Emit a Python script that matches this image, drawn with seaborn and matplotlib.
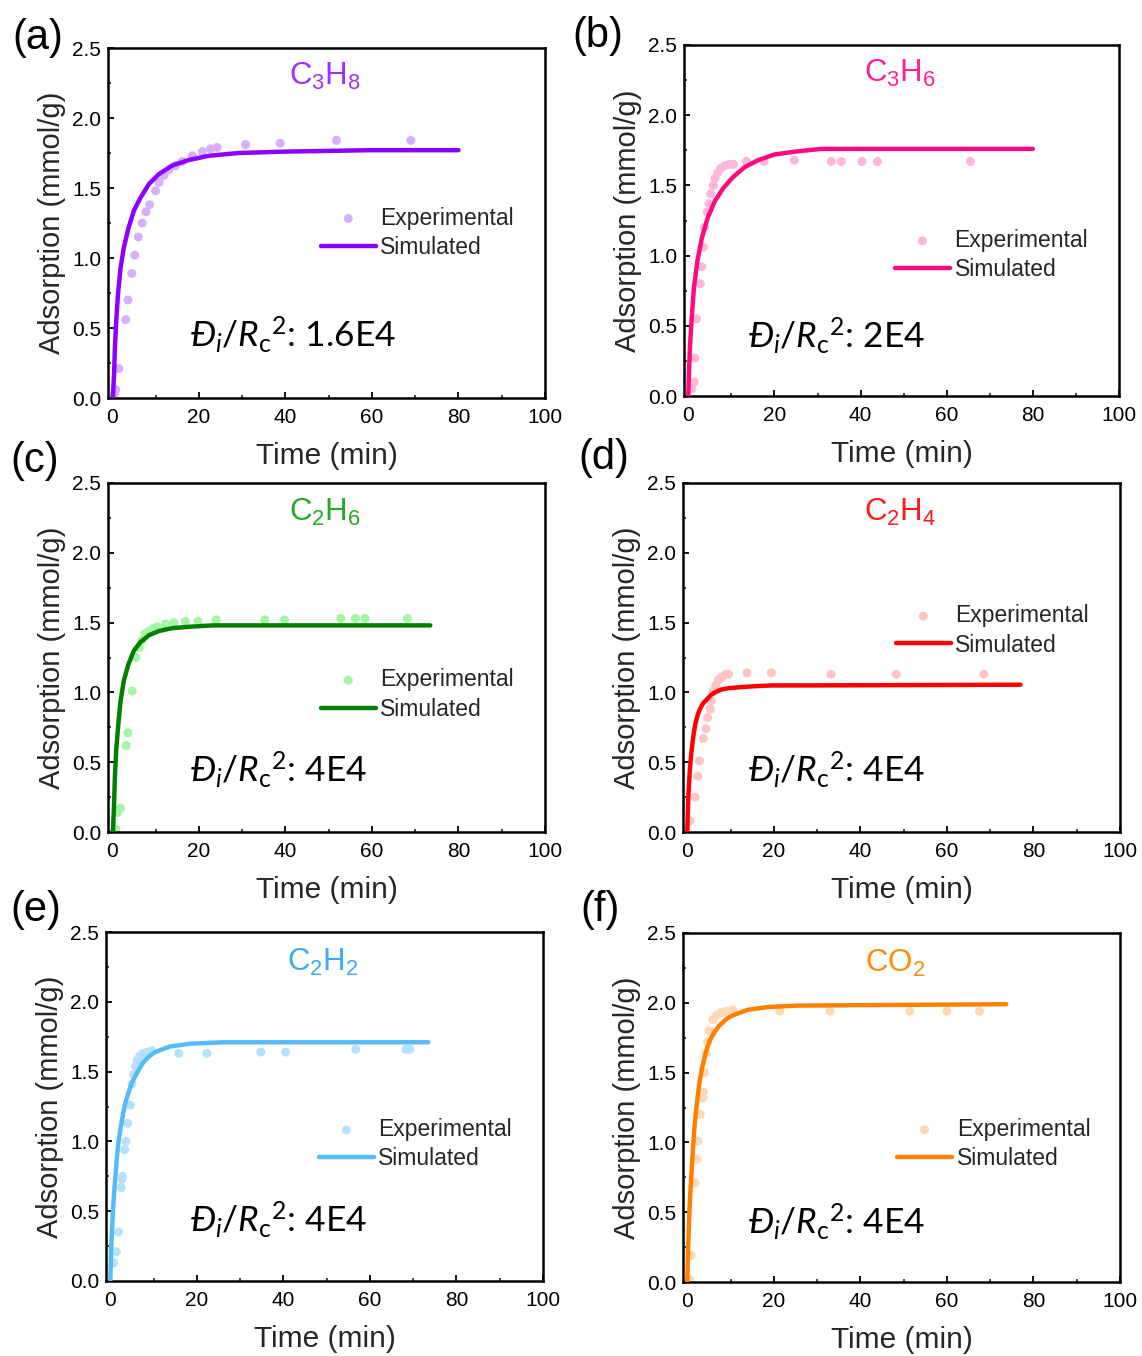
import numpy as np
import pandas as pd
import matplotlib
matplotlib.use("Agg")
import matplotlib.pyplot as plt
import seaborn as sns

# ---------------- data ----------------
gases = ["C3H8", "C3H6", "C2H6", "C2H4", "C2H2", "CO2"]
titles = [r"$\mathregular{C_3H_8}$", r"$\mathregular{C_3H_6}$", r"$\mathregular{C_2H_6}$",
          r"$\mathregular{C_2H_4}$", r"$\mathregular{C_2H_2}$", r"$\mathregular{CO_2}$"]
panel_labels = ["(a)", "(b)", "(c)", "(d)", "(e)", "(f)"]
diff_values = ["1.6E4", "2E4", "4E4", "4E4", "4E4", "4E4"]

# experimental points
exp_a_t = [0.5, 0.8, 1.5, 3.1, 3.6, 4.5, 5.2, 6.0, 6.9, 7.8, 8.6, 10.0, 10.8, 11.9, 13.1, 14.6,
           16.2, 18.5, 20.8, 22.7, 24.2, 30.8, 38.8, 51.8, 69.0]
exp_a_q = [0.03, 0.06, 0.21, 0.56, 0.70, 0.89, 1.02, 1.15, 1.25, 1.33, 1.38, 1.48, 1.54, 1.59, 1.63, 1.66,
           1.69, 1.73, 1.76, 1.78, 1.79, 1.81, 1.82, 1.84, 1.84]

exp_b_t = [0.8, 1.4, 1.5, 1.9, 2.8, 3.1, 3.5, 3.7, 4.4, 4.8, 5.2, 5.8, 6.2, 6.8, 7.5, 8.5, 9.6,
           10.5, 13.5, 17.6, 24.6, 33.2, 35.5, 40.3, 43.9, 65.5]
exp_b_q = [0.05, 0.10, 0.27, 0.55, 0.80, 0.92, 1.06, 1.20, 1.31, 1.37, 1.44, 1.50, 1.55, 1.59, 1.62, 1.64, 1.65,
           1.65, 1.67, 1.67, 1.68, 1.67, 1.67, 1.67, 1.67, 1.67]

exp_c_t = [0.8, 1.2, 1.9, 3.2, 3.6, 4.6, 5.5, 6.2, 6.8, 7.5, 8.5, 9.6, 10.4, 12.3, 14.2, 16.9, 19.8,
           24.0, 35.2, 39.8, 52.8, 56.2, 58.4, 68.2]
exp_c_q = [0.02, 0.14, 0.17, 0.62, 0.71, 1.01, 1.25, 1.32, 1.37, 1.42, 1.44, 1.46, 1.47, 1.49, 1.50, 1.51, 1.51,
           1.52, 1.52, 1.52, 1.53, 1.53, 1.53, 1.53]

exp_d_t = [0.6, 1.8, 2.4, 2.8, 3.7, 4.3, 4.7, 5.3, 5.5, 6.0, 6.6, 7.2, 8.0, 8.8, 9.5, 13.8, 19.4,
           33.2, 48.3, 68.5]
exp_d_q = [0.08, 0.25, 0.40, 0.51, 0.67, 0.74, 0.82, 0.88, 0.94, 1.01, 1.05, 1.09, 1.11, 1.13, 1.13, 1.14, 1.14,
           1.13, 1.13, 1.13]

exp_e_t = [0.8, 1.4, 1.9, 2.5, 2.7, 2.8, 3.3, 3.6, 4.0, 4.6, 5.0, 5.4, 5.8, 6.2, 6.8, 7.5, 8.5, 9.6,
           15.8, 22.3, 34.8, 40.5, 56.7, 68.3, 69.2]
exp_e_q = [0.13, 0.21, 0.35, 0.67, 0.73, 0.75, 0.94, 1.00, 1.13, 1.26, 1.41, 1.48, 1.54, 1.58, 1.61, 1.63, 1.64, 1.65,
           1.63, 1.63, 1.64, 1.64, 1.66, 1.66, 1.66]

exp_f_t = [0.5, 0.9, 1.8, 2.2, 2.4, 3.0, 3.6, 3.7, 4.0, 4.3, 4.7, 5.1, 5.9, 6.7, 7.8, 9.0, 10.5,
           21.4, 33.0, 51.4, 60.0, 67.5]
exp_f_q = [0.02, 0.19, 0.71, 0.88, 1.01, 1.20, 1.32, 1.36, 1.50, 1.64, 1.72, 1.80, 1.88, 1.91, 1.93, 1.94, 1.95,
           1.94, 1.94, 1.94, 1.94, 1.94]

# simulated curves
sim_a_t = [0, 0.15, 0.4, 0.6, 0.9, 1.3, 1.9, 2.7, 3.7, 5.0, 6.5, 8.5, 10.8, 13.8, 17.7, 22.3, 29.2, 40, 60, 80]
sim_a_q = [0, 0.02, 0.17, 0.36, 0.55, 0.74, 0.93, 1.08, 1.21, 1.34, 1.43, 1.53, 1.60, 1.66, 1.70, 1.73, 1.75,
           1.76, 1.77, 1.77]

sim_b_t = [0, 0.15, 0.4, 0.8, 1.3, 2.1, 3.1, 4.5, 6.2, 8.1, 10.4, 13.1, 16.2, 20.0, 24.6, 30.8, 42, 80]
sim_b_q = [0, 0.17, 0.36, 0.56, 0.77, 0.96, 1.12, 1.27, 1.39, 1.48, 1.56, 1.63, 1.68, 1.72, 1.74, 1.76, 1.76, 1.76]

sim_c_t = [0, 0.15, 0.4, 0.6, 0.9, 1.4, 1.9, 2.7, 3.7, 5.0, 6.5, 8.5, 10.8, 13.8, 17.7, 23.1, 33, 73.5]
sim_c_q = [0, 0.01, 0.20, 0.40, 0.59, 0.78, 0.94, 1.09, 1.20, 1.30, 1.36, 1.41, 1.44, 1.46, 1.47, 1.48, 1.48, 1.48]

sim_d_t = [0, 0.1, 0.2, 0.4, 0.6, 0.9, 1.2, 1.5, 1.9, 2.4, 2.9, 3.6, 4.5, 5.4, 6.4, 7.8, 9.5, 11.3, 13.4,
           16.0, 19.6, 28.9, 77]
sim_d_q = [0, 0.12, 0.23, 0.35, 0.45, 0.56, 0.64, 0.71, 0.78, 0.84, 0.88, 0.92, 0.95, 0.98, 1.00, 1.02, 1.03,
           1.035, 1.04, 1.045, 1.05, 1.05, 1.055]

sim_e_t = [0, 0.2, 0.4, 0.6, 0.9, 1.2, 1.5, 1.9, 2.4, 2.9, 3.5, 4.2, 5.0, 5.8, 6.7, 7.7, 9.0, 10.4, 12.0,
           13.8, 18.5, 26.2, 73.5]
sim_e_q = [0, 0.23, 0.37, 0.50, 0.64, 0.76, 0.88, 1.00, 1.10, 1.19, 1.28, 1.35, 1.42, 1.47, 1.52, 1.57, 1.61,
           1.64, 1.66, 1.68, 1.70, 1.71, 1.71]

sim_f_t = [0, 0.2, 0.5, 0.75, 1.0, 1.3, 1.6, 2.0, 2.4, 2.8, 3.3, 4.0, 4.7, 5.5, 6.3, 7.2, 8.2, 9.3, 10.5,
           12.2, 14.0, 18.7, 25.7, 73.7]
sim_f_q = [0, 0.26, 0.52, 0.67, 0.80, 0.95, 1.09, 1.22, 1.33, 1.43, 1.52, 1.61, 1.69, 1.75, 1.79, 1.83, 1.86,
           1.89, 1.91, 1.93, 1.95, 1.97, 1.98, 1.99]

exp_t = [exp_a_t, exp_b_t, exp_c_t, exp_d_t, exp_e_t, exp_f_t]
exp_q = [exp_a_q, exp_b_q, exp_c_q, exp_d_q, exp_e_q, exp_f_q]
sim_t = [sim_a_t, sim_b_t, sim_c_t, sim_d_t, sim_e_t, sim_f_t]
sim_q = [sim_a_q, sim_b_q, sim_c_q, sim_d_q, sim_e_q, sim_f_q]

x_ticks = [0, 20, 40, 60, 80, 100]
y_ticks = [0.0, 0.5, 1.0, 1.5, 2.0, 2.5]

# ---------------- styles ----------------
line_colors = ["#8B00FF", "#FF0A7E", "#007F00", "#FF0000", "#55BBF7", "#FF8000"]
point_colors = ["#D5B0FF", "#FFB6DB", "#A6F5A6", "#FFC4C4", "#B5E0FF", "#FFD8B5"]
title_colors = ["#9B30FF", "#FF2090", "#22AA22", "#FF1A1A", "#3AAAF5", "#FF8A10"]

sns.set_style("ticks")
plt.rcParams["font.family"] = ["Liberation Sans", "DejaVu Sans"]
plt.rcParams["mathtext.fontset"] = "custom"
plt.rcParams["mathtext.rm"] = "Lato"
plt.rcParams["mathtext.it"] = "Lato:italic"

W, H = 1142, 1356
fig = plt.figure(figsize=(W / 100, H / 100), dpi=100)

# axes boxes in pixels: left, right, top, bottom
boxes = [(108, 545, 48, 398), (684, 1119, 45, 396),
         (108, 545, 483, 832), (683, 1120, 483, 832),
         (106, 543, 932, 1281), (683, 1120, 933, 1282)]
legend_anchor = [(0.487, 0.547), (0.485, 0.476), (0.487, 0.469),
                 (0.487, 0.653), (0.487, 0.467), (0.49, 0.471)]
annot_pos = [(0.188, 0.18), (0.147, 0.172), (0.188, 0.178),
             (0.149, 0.178), (0.192, 0.175), (0.149, 0.172)]
title_pos = [(0.497, 0.92), (0.497, 0.92), (0.497, 0.917),
             (0.497, 0.917), (0.497, 0.914), (0.485, 0.914)]
label_pos = [(12, 38), (572, 36), (10, 461), (578, 458), (10, 910), (580, 910)]

for i in range(6):
    l, r, t, b = boxes[i]
    ax = fig.add_axes([l / W, 1 - b / H, (r - l) / W, (b - t) / H])
    df_exp = pd.DataFrame({"t": exp_t[i], "q": exp_q[i]})
    df_sim = pd.DataFrame({"t": sim_t[i], "q": sim_q[i]})
    sns.scatterplot(data=df_exp, x="t", y="q", ax=ax, color=point_colors[i], s=42,
                    edgecolor="none", label="Experimental", zorder=2)
    sns.lineplot(data=df_sim, x="t", y="q", ax=ax, color=line_colors[i], linewidth=3.2,
                 label="Simulated", zorder=3, sort=False,
                 solid_joinstyle="round", solid_capstyle="round")
    ax.set_xlim(-1, 100)
    ax.set_ylim(0, 2.5)
    ax.set_xticks(x_ticks)
    ax.set_yticks(y_ticks)
    ax.set_xticklabels([str(v) for v in x_ticks])
    ax.set_yticklabels([f"{v:.1f}" for v in y_ticks])
    ax.set_xticks([10, 30, 50, 70, 90], minor=True)
    ax.set_yticks([0.25, 0.75, 1.25, 1.75, 2.25], minor=True)
    ax.tick_params(which="major", direction="in", length=4, width=1.3, labelsize=15,
                   top=False, right=False, colors="black")
    ax.tick_params(axis="x", which="major", pad=7)
    ax.tick_params(axis="y", which="major", pad=5)
    ax.tick_params(which="minor", direction="in", length=2.2, width=1.2,
                   top=False, right=False)
    for sp in ax.spines.values():
        sp.set_linewidth(1.8)
        sp.set_color("black")
    ax.set_xlabel("Time (min)", fontsize=21.5, labelpad=11)
    ax.set_ylabel("Adsorption (mmol/g)", fontsize=21, labelpad=4)

    leg = ax.legend(loc="upper left", bbox_to_anchor=legend_anchor[i], frameon=False,
                    fontsize=16.5, handlelength=2.4, handletextpad=0.2, labelspacing=0.28,
                    borderpad=0, borderaxespad=0)

    ax.text(title_pos[i][0], title_pos[i][1], titles[i], transform=ax.transAxes,
            ha="center", va="center", fontsize=22.5, color=title_colors[i])
    ax.text(annot_pos[i][0], annot_pos[i][1],
            r"$\mathit{Đ}_{\mathit{i}}/\mathit{R}_{\mathrm{c}}{}^{2}$: " + diff_values[i],
            transform=ax.transAxes, ha="left", va="center", fontsize=25.5,
            family="Lato", color="black")

    fig.text(label_pos[i][0] / W, 1 - label_pos[i][1] / H, panel_labels[i],
             ha="left", va="center", fontsize=30, color="black")

fig.savefig("out.png", dpi=100)
